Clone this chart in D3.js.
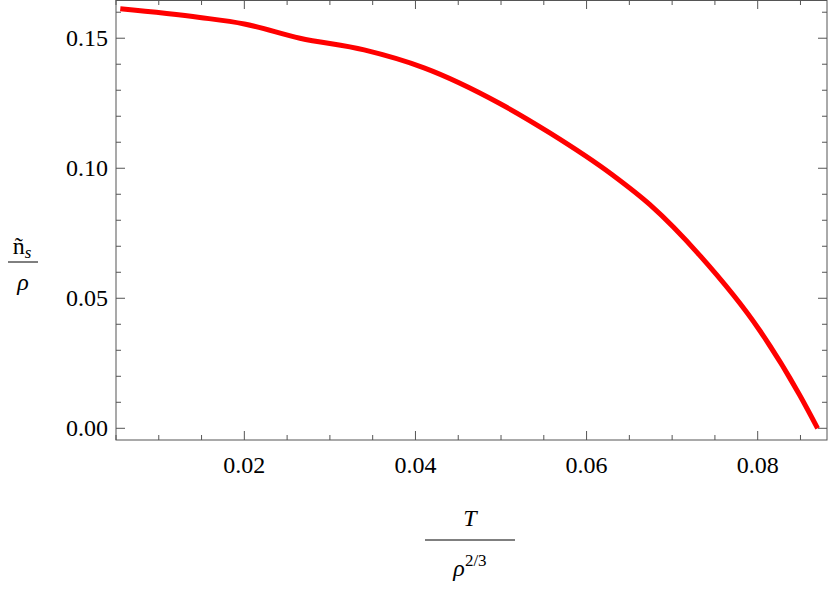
<!DOCTYPE html><html><head><script src="https://cdn.jsdelivr.net/npm/d3@7"></script>
<style>body{margin:0;background:#fff}text{font-family:"Liberation Serif","Times New Roman",serif;fill:#000}</style></head><body>
<svg id="c" width="830" height="594"></svg>
<script>
const tVals=[0.0055,0.0148,0.020,0.0265,0.034,0.041,0.0498,0.0557,0.063,0.0674,0.0732,0.0802,0.0849,0.087];
const nVals=[0.1613,0.158,0.1555,0.150,0.1455,0.1386,0.125,0.1136,0.0975,0.086,0.0666,0.0378,0.0128,0.0];
const xTicks=[0.02,0.04,0.06,0.08];
const yTicks=[0,0.05,0.10,0.15];
const svg=d3.select("#c");
const L=116,R=827,T=0,B=440;
const x=d3.scaleLinear().domain([0.005,0.0881]).range([L,R]);
const y=d3.scaleLinear().domain([-0.0045,0.1647]).range([B,T]);
const g=svg.append("g");
const minX=d3.range(0.005,0.0881,0.005), minY=d3.range(0,0.165,0.01);
const ax="#555";
g.append("rect").attr("x",L).attr("y",T+0.5).attr("width",R-L).attr("height",B-T-0.5).attr("fill","none").attr("stroke",ax);
minX.forEach(v=>{const maj=xTicks.some(t=>Math.abs(t-v)<1e-9);const l=maj?9:5;
 g.append("line").attr("x1",x(v)).attr("x2",x(v)).attr("y1",B).attr("y2",B-l).attr("stroke",ax);
 g.append("line").attr("x1",x(v)).attr("x2",x(v)).attr("y1",T).attr("y2",T+l).attr("stroke",ax);});
minY.forEach(v=>{const maj=yTicks.some(t=>Math.abs(t-v)<1e-9);const l=maj?9:5;
 g.append("line").attr("y1",y(v)).attr("y2",y(v)).attr("x1",L).attr("x2",L+l).attr("stroke",ax);
 g.append("line").attr("y1",y(v)).attr("y2",y(v)).attr("x1",R).attr("x2",R-l).attr("stroke",ax);});
xTicks.forEach(v=>g.append("text").attr("x",x(v)).attr("y",B+33).attr("text-anchor","middle").attr("font-size",24).text(v.toFixed(2)));
yTicks.forEach(v=>g.append("text").attr("x",L-8).attr("y",y(v)+8).attr("text-anchor","end").attr("font-size",24).text(v.toFixed(2)));
const line=d3.line().x((d,i)=>x(tVals[i])).y(d=>y(d)).curve(d3.curveMonotoneX);
g.append("path").attr("d",line(nVals)).attr("fill","none").attr("stroke","#f00").attr("stroke-width",5);
// y label
g.append("text").attr("x",22).attr("y",254).attr("text-anchor","middle").attr("font-size",24).html('ñ<tspan font-style="italic" font-size="17" dy="4">s</tspan>');
g.append("line").attr("x1",8).attr("x2",38).attr("y1",262).attr("y2",262).attr("stroke","#000");
g.append("text").attr("x",23).attr("y",290).attr("text-anchor","middle").attr("font-size",24).attr("font-style","italic").text("ρ");
// x label
g.append("text").attr("x",470).attr("y",526).attr("text-anchor","middle").attr("font-size",24).attr("font-style","italic").text("T");
g.append("line").attr("x1",425).attr("x2",515).attr("y1",540).attr("y2",540).attr("stroke","#000");
g.append("text").attr("x",470).attr("y",576).attr("text-anchor","middle").attr("font-size",24).html('<tspan font-style="italic">ρ</tspan><tspan font-size="17" dy="-10">2/3</tspan>');
</script></body></html>
